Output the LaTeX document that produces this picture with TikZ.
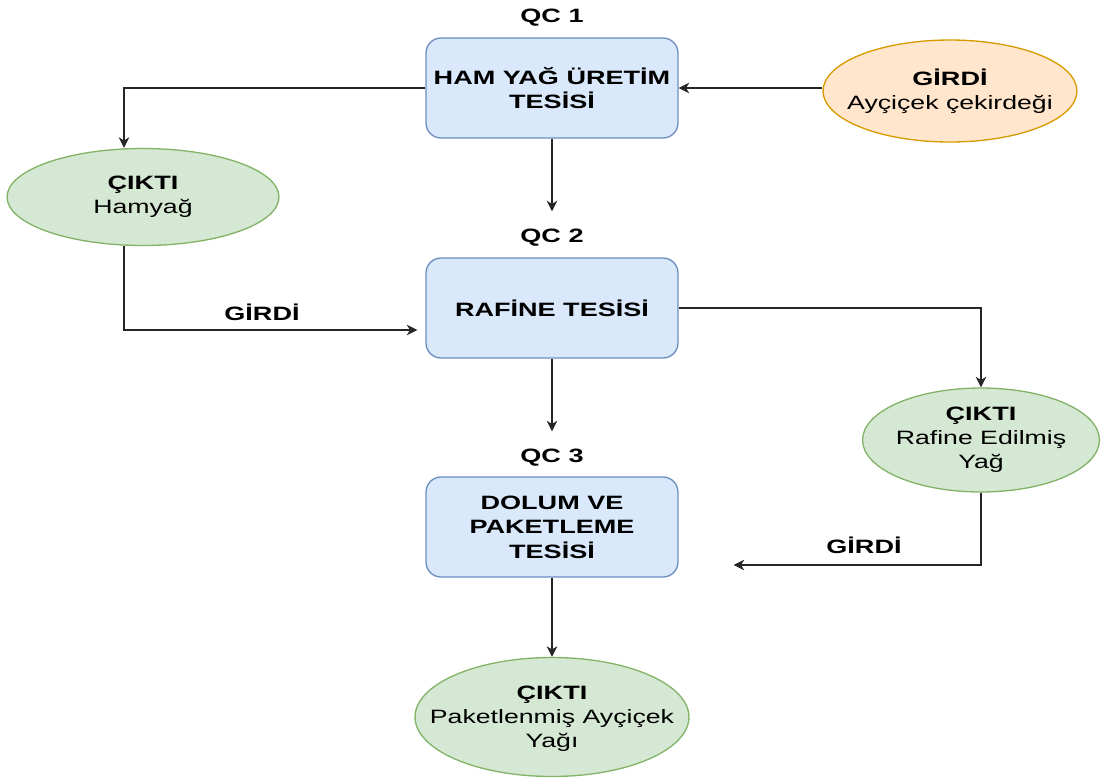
\documentclass[tikz,border=0pt]{standalone}
\usepackage{fontspec}
\setmainfont{Liberation Sans}
% wide faces for headings and body text
\newfontfamily\hdfont{Liberation Sans}[FakeStretch=1.40]
\newfontfamily\txfont{Liberation Sans}[FakeStretch=1.38]
\usetikzlibrary{arrows.meta,shapes.geometric,calc}

\definecolor{boxfill}{HTML}{DAE8FC}
\definecolor{boxline}{HTML}{6C8EBF}
\definecolor{grnfill}{HTML}{D5E8D4}
\definecolor{grnline}{HTML}{82B366}
\definecolor{orgfill}{HTML}{FFE6CC}
\definecolor{orgline}{HTML}{D79B00}

\tikzset{
  plant/.style={draw=boxline, fill=boxfill, line width=0.75pt,
    rounded corners=0.3cm, minimum width=5.04cm, minimum height=2cm,
    align=center, inner sep=2pt,
    font=\hdfont\bfseries\fontsize{11}{13.9}\selectfont},
  blob/.style={ellipse, line width=0.75pt, inner sep=0pt},
  outblob/.style={blob, draw=grnline, fill=grnfill},
  inblob/.style={blob, draw=orgline, fill=orgfill},
  etext/.style={align=center, inner sep=0pt,
    font=\txfont\fontsize{11}{13.6}\selectfont},
  qclabel/.style={inner sep=0pt, outer ysep=0.36cm,
    font=\hdfont\bfseries\fontsize{11}{12}\selectfont},
  flowlabel/.style={inner sep=0pt,
    font=\hdfont\bfseries\fontsize{11}{12}\selectfont},
  arr/.style={-{Stealth[length=6pt,width=6pt,inset=1.8pt]},
    line width=0.85pt, draw=black!85}
}

\begin{document}
\begin{tikzpicture}[x=0.02cm, y=-0.02cm]
  \useasboundingbox[fill=white] (0,0) rectangle (1107,778);

  % plants
  \node[plant] (b1) at (552,88)  {HAM YAĞ ÜRETİM\\TESİSİ};
  \node[plant] (b2) at (552,308) {RAFİNE TESİSİ};
  \node[plant] (b3) at (552,527) {DOLUM VE\\PAKETLEME\\TESİSİ};

  % quality-control stages
  \node[qclabel] (qc1) at (552,18)  {QC 1};
  \node[qclabel] (qc2) at (552,238) {QC 2};
  \node[qclabel] (qc3) at (552,458) {QC 3};

  % inputs and outputs
  \node[inblob, minimum width=5.08cm, minimum height=2.04cm] (seed) at (950,91) {};
  \node[etext] (seed-t) at (seed) {{\hdfont\bfseries GİRDİ}\\Ayçiçek çekirdeği};

  \node[outblob, minimum width=5.44cm, minimum height=1.94cm] (raw) at (143,197) {};
  \node[etext] (raw-t) at (raw) {{\hdfont\bfseries ÇIKTI}\\Hamyağ};

  \node[outblob, minimum width=4.74cm, minimum height=2.08cm] (ref) at (981,440) {};
  \node[etext] (ref-t) at (ref) {{\hdfont\bfseries ÇIKTI}\\Rafine Edilmiş\\Yağ};

  \node[outblob, minimum width=5.48cm, minimum height=2.38cm] (pack) at (552,717) {};
  \node[etext] (pack-t) at ($(pack)+(0,2)$) {{\hdfont\bfseries ÇIKTI}\\Paketlenmiş Ayçiçek\\Yağı};

  % flow labels
  \node[flowlabel] (in2) at (262,312) {GİRDİ};
  \node[flowlabel] (in3) at (864,545) {GİRDİ};

  % connectors
  \draw[arr] (seed.west |- b1.east) -- (b1.east);
  \draw[arr] (b1.west) -| ($(raw.north)+(-19,0)$);
  \draw[arr] (b1.south) -- (qc2.north);
  \draw[arr] ($(raw.south)+(-19,0)$) |- ($(b2.west)+(-8,22)$);
  \draw[arr] (b2.east) -| (ref.north);
  \draw[arr] (b2.south) -- (qc3.north);
  \draw[arr] (ref.south) |- ($(b3.east)+(55,38)$);
  \draw[arr] (b3.south) -- (pack.north);
\end{tikzpicture}
\end{document}
